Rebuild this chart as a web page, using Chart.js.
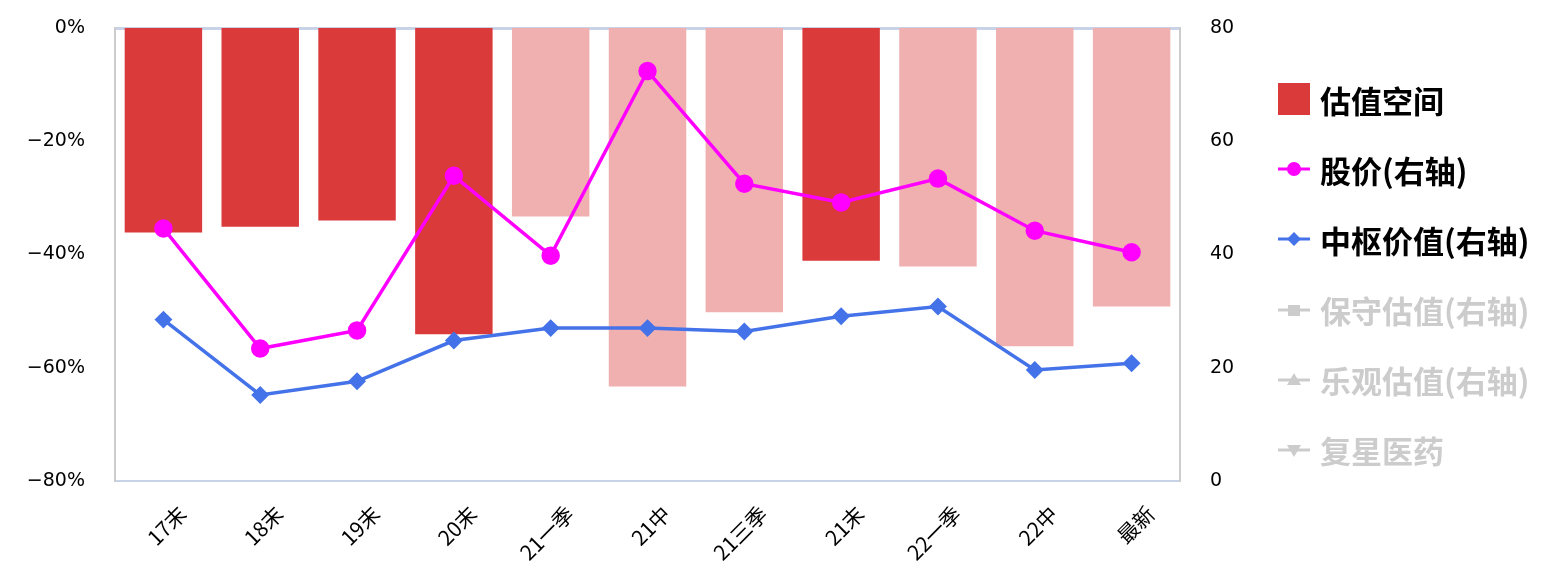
<!DOCTYPE html>
<html>
<head>
<meta charset="utf-8">
<script src="https://cdn.jsdelivr.net/npm/chart.js@4/dist/chart.umd.min.js"></script>
<style>
  html, body { margin: 0; padding: 0; background: #fff; }
  #wrap { position: relative; width: 1545px; height: 576px; }
  #legend { position: absolute; left: 1278px; top: 78px; font-family: "Noto Sans CJK SC", sans-serif;
            font-weight: bold; font-size: 31px; }
  .item { display: flex; align-items: center; height: 42px; margin-bottom: 28.2px; white-space: nowrap; }
  .item canvas { margin-right: 10px; }
</style>
</head>
<body>
<div id="wrap">
  <canvas id="c" width="1545" height="576"></canvas>
  <div id="legend"></div>
</div>
<script>
var categories = ['17末', '18末', '19末', '20末', '21一季', '21中', '21三季', '21末', '22一季', '22中', '最新'];
var valuationSpace = [-36.1, -35.1, -34.0, -54.1, -33.3, -63.3, -50.2, -41.1, -42.1, -56.2, -49.2];
var stockPrice = [44.6, 23.4, 26.6, 53.9, 39.8, 72.4, 52.5, 49.2, 53.4, 44.2, 40.4];
var centralValue = [28.5, 15.2, 17.6, 24.8, 27.0, 27.0, 26.4, 29.1, 30.8, 19.6, 20.8];
var leftTicks = [0, -20, -40, -60, -80];
var rightTicks = [0, 20, 40, 60, 80];
// dark bars are year-end points
var darkBar = [true, true, true, true, false, false, false, true, false, false, false];

var barColors = darkBar.map(function (d) { return d ? '#DB3A3B' : '#F0B0B0'; });

var legendItems = [
    { text: '估值空间', color: '#DB3A3B', kind: 'box' },
    { text: '股价(右轴)', color: '#FF00FF', kind: 'circle' },
    { text: '中枢价值(右轴)', color: '#4472E8', kind: 'diamond' },
    { text: '保守估值(右轴)', color: '#CCCCCC', kind: 'square' },
    { text: '乐观估值(右轴)', color: '#CCCCCC', kind: 'triangle' },
    { text: '复星医药', color: '#CCCCCC', kind: 'triangleDown' }
];

// fixed axis widths; drop the extra room chart.js keeps for the end tick labels
function fixY(w) {
    return function (s) { s.width = w; s.paddingTop = 0; s.paddingBottom = 0; };
}

var chart = new Chart(document.getElementById('c').getContext('2d'), {
    type: 'bar',
    data: {
        labels: categories,
        datasets: [
            {
                type: 'line',
                label: '股价(右轴)',
                data: stockPrice,
                yAxisID: 'yRight',
                borderColor: '#FF00FF',
                backgroundColor: '#FF00FF',
                borderWidth: 3.5,
                pointRadius: 7.5,
                pointHoverRadius: 7.5,
                tension: 0
            },
            {
                type: 'line',
                label: '中枢价值(右轴)',
                data: centralValue,
                yAxisID: 'yRight',
                borderColor: '#4472E8',
                backgroundColor: '#4472E8',
                borderWidth: 3.5,
                pointStyle: 'rectRot',
                pointRadius: 6.5,
                pointHoverRadius: 6.5,
                tension: 0
            },
            {
                label: '估值空间',
                data: valuationSpace,
                yAxisID: 'yLeft',
                backgroundColor: barColors,
                categoryPercentage: 1.0,
                barPercentage: 0.8
            }
        ]
    },
    options: {
        responsive: false,
        animation: false,
        layout: { padding: { top: 28, right: 305, left: 0, bottom: 0 } },
        plugins: { legend: { display: false }, tooltip: { enabled: false } },
        scales: {
            x: {
                grid: { display: false },
                border: { color: '#C9D3E8', width: 2 },
                ticks: {
                    color: '#000',
                    font: { family: 'Noto Sans CJK SC', size: 21 },
                    maxRotation: 45, minRotation: 45, padding: 12, labelOffset: 19
                },
                afterFit: function (s) { s.height = 95; s.paddingLeft = 0; s.paddingRight = 0; }
            },
            xTop: {
                position: 'top',
                grid: { display: false },
                border: { color: '#C9D3E8', width: 3 },
                ticks: { display: false },
                afterFit: function (s) { s.height = 0; }
            },
            yLeft: {
                position: 'left',
                min: -80, max: 0,
                afterBuildTicks: function (s) { s.ticks = leftTicks.map(function (v) { return { value: v }; }); },
                grid: { display: false },
                border: { color: '#CCCCCC', width: 2 },
                ticks: {
                    color: '#000',
                    font: { family: 'DejaVu Sans', size: 19 },
                    padding: 22,
                    callback: function (v) { return (v < 0 ? '\u2212' + (-v) : v) + '%'; }
                },
                afterFit: fixY(115)
            },
            yRight: {
                position: 'right',
                min: 0, max: 80,
                afterBuildTicks: function (s) { s.ticks = rightTicks.map(function (v) { return { value: v }; }); },
                grid: { display: false },
                border: { color: '#CCCCCC', width: 2 },
                ticks: {
                    color: '#000',
                    font: { family: 'DejaVu Sans', size: 19 },
                    padding: 22
                },
                afterFit: fixY(60)
            }
        }
    }
});

function drawIcon(kind, color) {
    var cv = document.createElement('canvas');
    cv.width = 32; cv.height = 32;
    var g = cv.getContext('2d');
    g.fillStyle = color; g.strokeStyle = color;
    if (kind === 'box') {
        g.fillRect(0, 0, 32, 32);
        return cv;
    }
    g.lineWidth = 3;
    g.beginPath(); g.moveTo(0, 16); g.lineTo(32, 16); g.stroke();
    g.beginPath();
    if (kind === 'circle') {
        g.arc(16, 16, 7, 0, Math.PI * 2);
    } else if (kind === 'diamond') {
        g.moveTo(16, 9); g.lineTo(23, 16); g.lineTo(16, 23); g.lineTo(9, 16); g.closePath();
    } else if (kind === 'square') {
        g.rect(10, 11, 12, 11);
    } else if (kind === 'triangle') {
        g.moveTo(16, 9); g.lineTo(23, 21); g.lineTo(9, 21); g.closePath();
    } else {
        g.moveTo(9, 11); g.lineTo(23, 11); g.lineTo(16, 23); g.closePath();
    }
    g.fill();
    return cv;
}

var legendEl = document.getElementById('legend');
legendItems.forEach(function (it) {
    var row = document.createElement('div');
    row.className = 'item';
    row.appendChild(drawIcon(it.kind, it.color));
    var t = document.createElement('span');
    t.textContent = it.text;
    t.style.color = it.color === '#CCCCCC' ? '#CCCCCC' : '#000';
    row.appendChild(t);
    legendEl.appendChild(row);
});
</script>
</body>
</html>
